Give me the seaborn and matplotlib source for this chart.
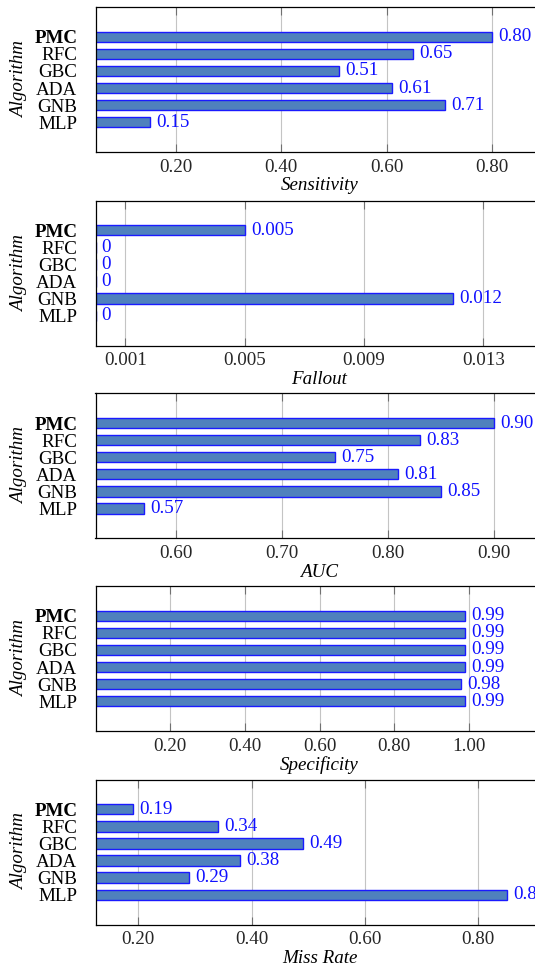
import matplotlib
matplotlib.use("Agg")
import matplotlib.pyplot as plt
import seaborn as sns
import numpy as np

algorithms = ["PMC", "RFC", "GBC", "ADA", "GNB", "MLP"]

sensitivity = [0.80, 0.65, 0.51, 0.61, 0.71, 0.15]
fallout = [0.005, 0.0, 0.0, 0.0, 0.012, 0.0]
auc = [0.90, 0.83, 0.75, 0.81, 0.85, 0.57]
specificity = [0.99, 0.99, 0.99, 0.99, 0.98, 0.99]
miss_rate = [0.19, 0.34, 0.49, 0.38, 0.29, 0.85]

metric_names = ["Sensitivity", "Fallout", "AUC", "Specificity", "Miss Rate"]
metric_values = [sensitivity, fallout, auc, specificity, miss_rate]
label_formats = ["{:.2f}", "{:g}", "{:.2f}", "{:.2f}", "{:.2f}"]
tick_values = [
    [0.20, 0.40, 0.60, 0.80],
    [0.001, 0.005, 0.009, 0.013],
    [0.60, 0.70, 0.80, 0.90],
    [0.20, 0.40, 0.60, 0.80, 1.00],
    [0.20, 0.40, 0.60, 0.80],
]
tick_formats = ["{:.2f}", "{:.3f}", "{:.2f}", "{:.2f}", "{:.2f}"]
x_limits = [
    (0.047, 0.898),
    (0.0, 0.01502),
    (0.524, 0.947),
    (0.0, 1.20),
    (0.1245, 0.915),
]

sns.set_theme(style="white")
plt.rcParams["font.family"] = ["Liberation Serif", "DejaVu Serif"]

W, H = 535, 965
fig = plt.figure(figsize=(W / 100, H / 100), dpi=100)
fig.patch.set_facecolor("white")

tops = [7, 200.5, 393.3, 586, 779.5]
ax_h = 145
left_px, right_px = 95.5, 543.5
ax_w = right_px - left_px

fill_color = "#4f81bd"
edge_color = "#1a1aff"
text_blue = "#1010ff"
fs = 13.7

for i in range(5):
    top = tops[i]
    ax = fig.add_axes([left_px / W, 1 - (top + ax_h) / H,
                       ax_w / W, ax_h / H])
    vals = metric_values[i]
    sns.barplot(x=vals, y=algorithms, orient="h", color=fill_color,
                saturation=1, edgecolor=edge_color, linewidth=1.0,
                width=0.6, ax=ax)
    ax.set_xlim(*x_limits[i])
    ax.set_ylim(5 + 1.746, -1.746)
    ax.set_axisbelow(True)
    ax.set_xticks(tick_values[i])
    ax.set_xticklabels([tick_formats[i].format(t) for t in tick_values[i]],
                       fontsize=fs)
    ax.grid(axis="x", color="#c4c4c4", linewidth=0.8)
    ax.grid(axis="y", visible=False)
    ax.tick_params(axis="x", direction="in", length=6, width=0.8,
                   color="#707070", top=True, bottom=True, pad=5)
    ax.tick_params(axis="y", length=0, pad=13, labelsize=fs)
    for lbl in ax.get_yticklabels():
        lbl.set_color("black")
        if lbl.get_text() == "PMC":
            lbl.set_fontweight("bold")
    for sp in ["left", "top", "bottom"]:
        ax.spines[sp].set_color("black")
        ax.spines[sp].set_linewidth(0.9)
    ax.spines["right"].set_visible(False)
    labels = [label_formats[i].format(v) for v in vals]
    ax.bar_label(ax.containers[0], labels=labels, padding=4.5,
                 color=text_blue, fontsize=fs, clip_on=False)
    ax.set_xlabel(metric_names[i], fontsize=fs, style="italic",
                  labelpad=1, color="black")
    ax.set_ylabel("Algorithm", fontsize=fs, style="italic", color="black")
    ax.yaxis.label.set_verticalalignment("center")
    ax.yaxis.set_label_coords((20 - left_px) / ax_w, 0.5)

fig.savefig("out.png", dpi=100, facecolor="white")
